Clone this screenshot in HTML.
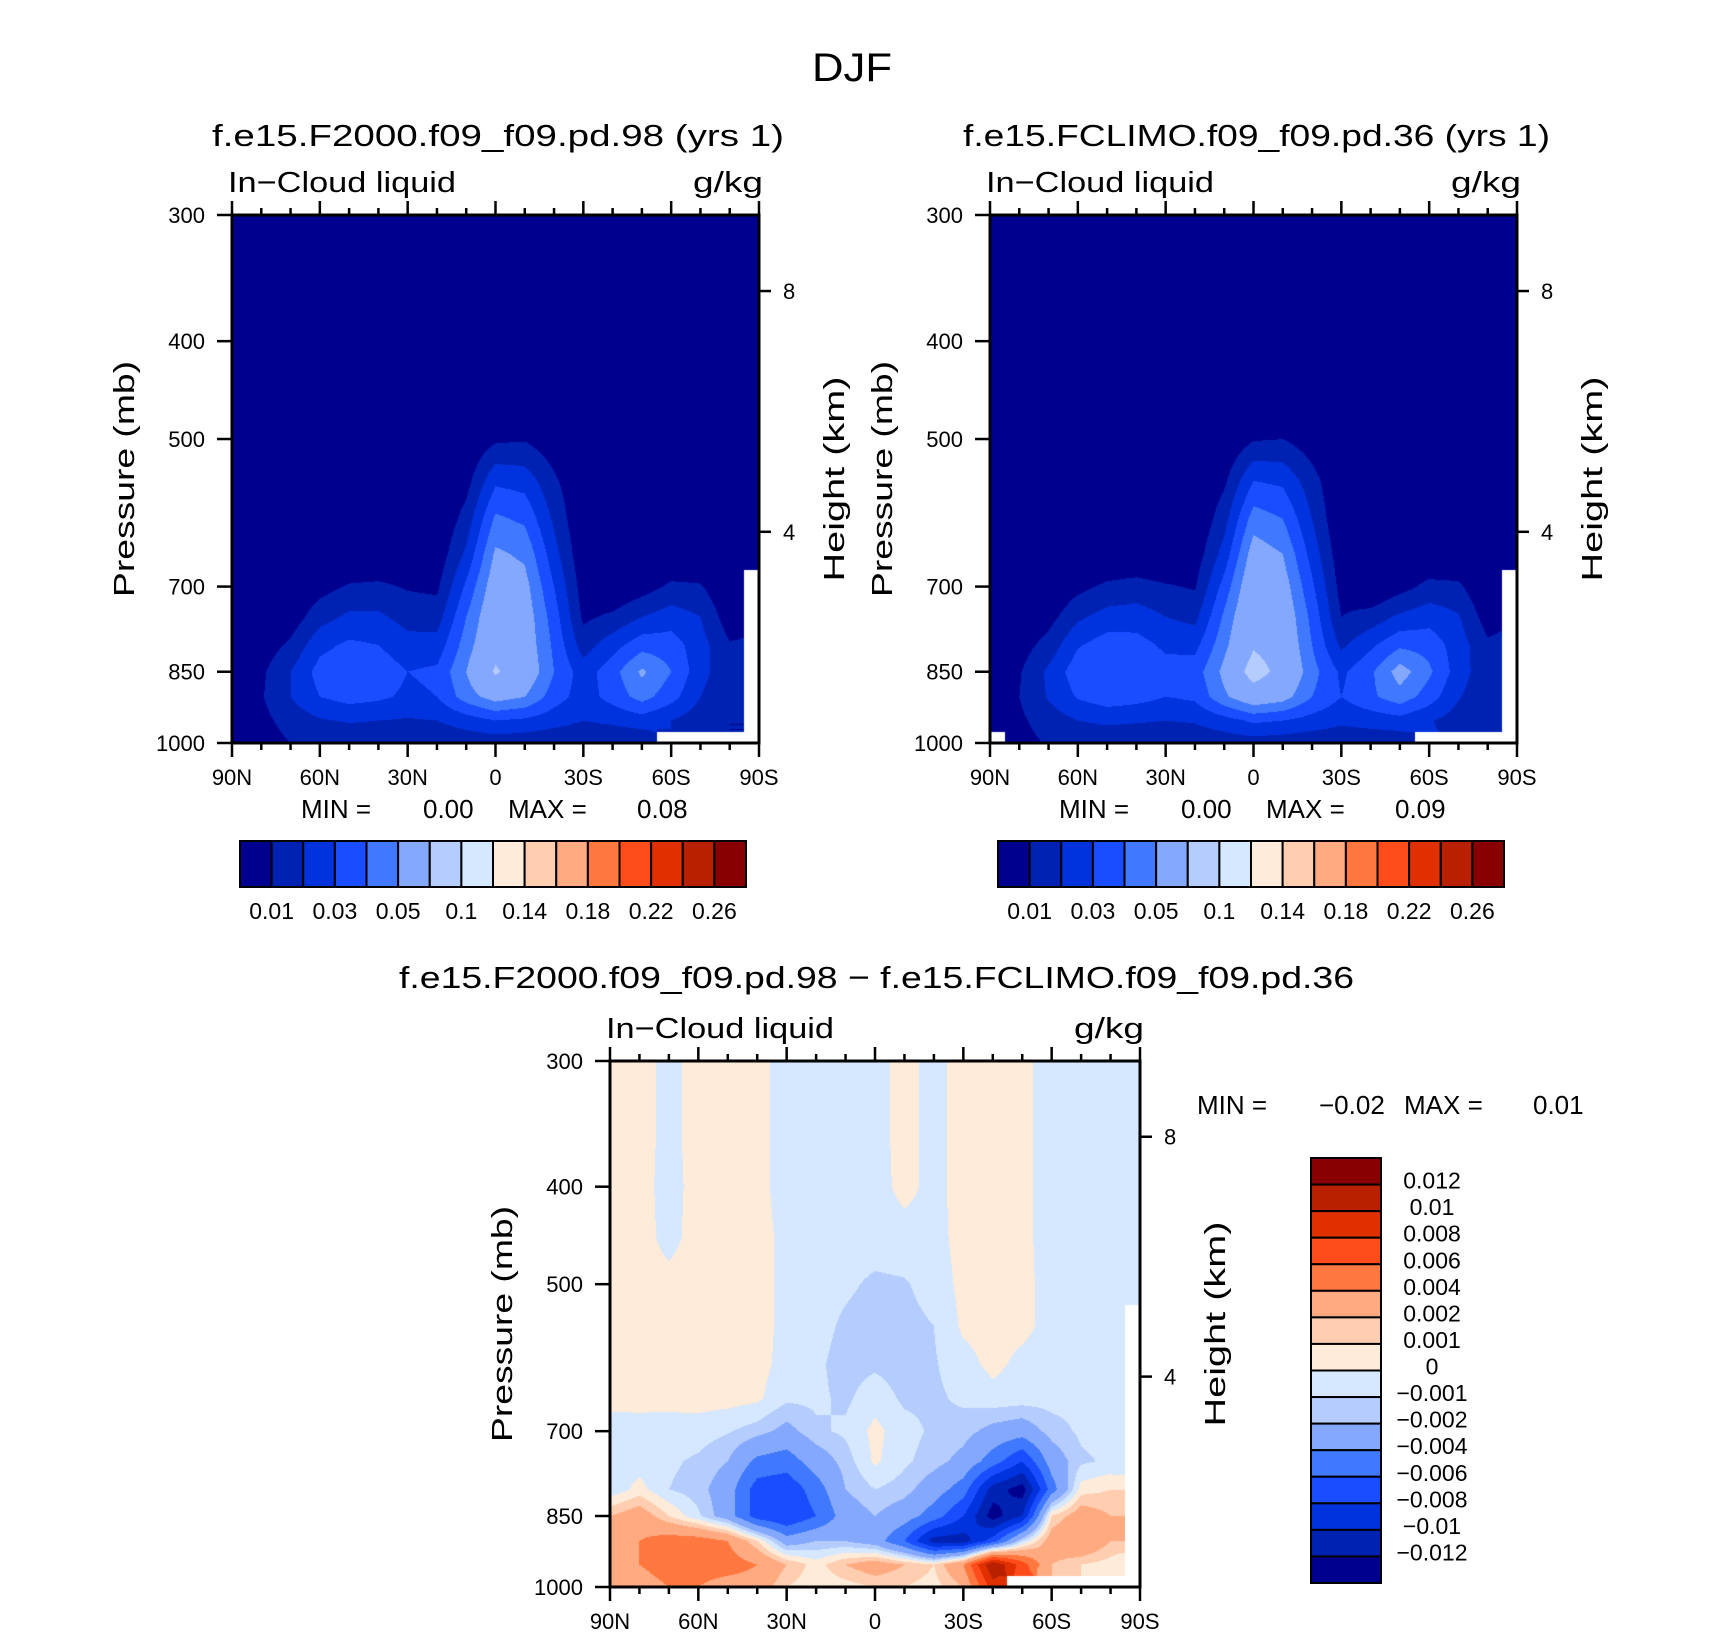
<!DOCTYPE html>
<html><head><meta charset="utf-8">
<style>
html,body{margin:0;padding:0;background:#fff;}
#wrap{position:relative;width:1710px;height:1636px;overflow:hidden;font-family:"Liberation Sans",sans-serif;}
canvas{position:absolute;}
svg{position:absolute;left:0;top:0;}
text{font-family:"Liberation Sans",sans-serif;fill:#000;}
</style></head>
<body>
<div id="wrap">
<canvas id="c1"></canvas>
<canvas id="c2"></canvas>
<canvas id="c3"></canvas>
<svg id="svg" width="1710" height="1636">
<text x="852" y="81" font-size="40" text-anchor="middle" textLength="80" lengthAdjust="spacingAndGlyphs">DJF</text>
</svg>
</div>
<script>
const PRESS = [300,350,400,450,500,550,600,650,700,750,800,850,900,950,1000];
const LATS = [90,80,70,60,50,40,30,20,10,0,-10,-20,-30,-40,-50,-60,-70,-80,-90];
const N = NaN;
const Z19 = [0,0,0,0,0,0,0,0,0,0,0,0,0,0,0,0,0,0,0];
const field1 = [
Z19,Z19,Z19,Z19,
[0,0,0,0,0,0,0,0,0,0.008,0.009,0.003,0,0,0,0,0,0,0],
[0,0,0,0,0,0,0,0,0.006,0.028,0.026,0.012,0,0,0,0,0,0,0],
[0,0,0,0,0,0,0,0,0.014,0.042,0.038,0.018,0,0,0,0,0,0,0],
[0,0,0,0,0,0,0,0.003,0.022,0.052,0.048,0.024,0.002,0,0,0,0,0,0],
[0,0,0,0.006,0.011,0.012,0.009,0.008,0.032,0.058,0.054,0.03,0.005,0,0.005,0.012,0.011,0,N],
[0,0,0.004,0.016,0.022,0.022,0.016,0.015,0.04,0.062,0.057,0.035,0.008,0.012,0.02,0.025,0.02,0.004,N],
[0,0.004,0.012,0.027,0.032,0.03,0.024,0.024,0.045,0.064,0.058,0.038,0.015,0.026,0.036,0.035,0.024,0.011,N],
[0,0.008,0.02,0.034,0.038,0.036,0.03,0.032,0.05,0.072,0.06,0.04,0.025,0.036,0.052,0.04,0.024,0.012,N],
[0,0.009,0.02,0.03,0.034,0.032,0.028,0.03,0.045,0.055,0.05,0.035,0.025,0.034,0.044,0.034,0.02,0.011,N],
[0,0.007,0.014,0.019,0.021,0.02,0.019,0.02,0.025,0.03,0.028,0.024,0.02,0.022,0.025,0.02,0.014,0.01,N],
[0,0.005,0.01,0.012,0.012,0.012,0.012,0.012,0.013,0.014,0.013,0.012,0.012,0.012,0.012,N,N,N,N]
];
const field2 = [
Z19,Z19,Z19,Z19,
[0,0,0,0,0,0,0,0,0,0.009,0.01,0.004,0,0,0,0,0,0,0],
[0,0,0,0,0,0,0,0,0.008,0.03,0.028,0.014,0,0,0,0,0,0,0],
[0,0,0,0,0,0,0,0,0.016,0.045,0.04,0.02,0,0,0,0,0,0,0],
[0,0,0,0,0,0,0,0.004,0.024,0.056,0.05,0.026,0.003,0,0,0,0,0,0],
[0,0,0,0.007,0.012,0.014,0.011,0.009,0.034,0.062,0.056,0.032,0.006,0,0.006,0.013,0.012,0,N],
[0,0,0.006,0.018,0.024,0.025,0.02,0.017,0.042,0.066,0.06,0.037,0.01,0.014,0.022,0.026,0.021,0.005,N],
[0,0.005,0.014,0.029,0.035,0.034,0.028,0.027,0.047,0.068,0.062,0.04,0.018,0.028,0.038,0.036,0.025,0.012,N],
[0,0.009,0.022,0.036,0.04,0.039,0.034,0.035,0.053,0.078,0.064,0.044,0.028,0.038,0.055,0.042,0.025,0.013,N],
[0,0.01,0.021,0.031,0.036,0.034,0.03,0.032,0.048,0.06,0.055,0.04,0.03,0.038,0.046,0.035,0.021,0.012,N],
[0,0.008,0.015,0.02,0.022,0.021,0.02,0.021,0.026,0.032,0.03,0.026,0.022,0.024,0.026,0.021,0.015,0.011,N],
[N,0.006,0.011,0.013,0.013,0.013,0.013,0.013,0.014,0.015,0.014,0.013,0.013,0.013,0.013,N,N,N,N]
];
const fieldDiff = [
[0.0003,0.0004,-0.0003,0.0004,0.0005,0.0003,-0.0004,-0.0003,-0.0004,-0.0003,0.0003,-0.0003,0.0004,0.0004,0.0003,-0.0005,-0.0005,-0.0004,-0.0004],
[0.0003,0.0004,-0.0003,0.0004,0.0005,0.0003,-0.0004,-0.0003,-0.0004,-0.0003,0.0003,-0.0003,0.0004,0.0004,0.0003,-0.0005,-0.0005,-0.0004,-0.0004],
[0.0003,0.0004,-0.0004,0.0004,0.0005,0.0003,-0.0004,-0.0003,-0.0004,-0.0004,0.0003,-0.0003,0.0004,0.0004,0.0003,-0.0005,-0.0005,-0.0004,-0.0004],
[0.0003,0.0004,-0.0003,0.0004,0.0005,0.0004,-0.0003,-0.0004,-0.0005,-0.0005,-0.0004,-0.0004,0.0004,0.0004,0.0003,-0.0005,-0.0005,-0.0004,-0.0006],
[0.0003,0.0004,0.0003,0.0004,0.0005,0.0004,-0.0003,-0.0005,-0.0008,-0.0012,-0.0011,-0.0006,0.0003,0.0004,0.0003,-0.0004,-0.0005,-0.0005,-0.0009],
[0.0003,0.0004,0.0003,0.0004,0.0005,0.0004,-0.0003,-0.0006,-0.0012,-0.0015,-0.0013,-0.001,0.0002,0.0004,0.0003,-0.0004,-0.0005,-0.0006,N],
[0.0003,0.0004,0.0003,0.0004,0.0005,0.0004,-0.0004,-0.0008,-0.0014,-0.0012,-0.0015,-0.0011,-0.0004,0.0003,-0.0003,-0.0005,-0.0006,-0.0007,N],
[0.0002,0.0003,0.0002,0.0004,0.0004,0.0002,-0.0008,-0.0008,-0.0012,-0.0004,-0.0012,-0.0012,-0.0008,-0.0004,-0.0005,-0.0006,-0.0007,-0.0008,N],
[-0.0003,-0.0004,-0.0003,-0.0005,-0.0009,-0.0015,-0.0025,-0.0012,-0.0008,0.0003,-0.0006,-0.0012,-0.0015,-0.0025,-0.003,-0.0015,-0.0008,-0.0006,N],
[-0.0006,-0.0005,-0.0008,-0.0012,-0.002,-0.0045,-0.005,-0.003,-0.0015,0.0002,-0.0008,-0.0015,-0.0025,-0.005,-0.008,-0.003,-0.0012,-0.0008,N],
[-0.0008,0.0004,-0.001,-0.0015,-0.003,-0.007,-0.0075,-0.005,-0.002,-0.001,-0.0015,-0.003,-0.005,-0.011,-0.013,-0.005,0.0005,0.001,N],
[0.002,0.003,0.001,-0.0008,-0.003,-0.007,-0.008,-0.006,-0.003,-0.002,-0.003,-0.005,-0.008,-0.013,-0.01,0.001,0.003,0.002,N],
[0.003,0.004,0.005,0.005,0.004,0.001,-0.003,-0.002,-0.002,-0.003,-0.006,-0.011,-0.011,-0.007,-0.001,0.003,0.004,0.002,N],
[0.003,0.004,0.005,0.005,0.005,0.004,0.002,0.0005,0.002,0.003,0.002,0.001,0.004,0.012,0.007,0.002,0.001,0.0005,N],
[0.002,0.003,0.004,0.004,0.003,0.003,0.001,0.0003,0.0005,0.001,0.001,0.0005,0.002,0.009,N,N,N,N,N]
];
const levelsMain = [0.01,0.02,0.03,0.04,0.05,0.07,0.1,0.12,0.14,0.16,0.18,0.2,0.22,0.24,0.26];
const levelsDiff = [-0.012,-0.01,-0.008,-0.006,-0.004,-0.002,-0.001,0,0.001,0.002,0.004,0.006,0.008,0.01,0.012];
const labelsMain = ["0.01","0.03","0.05","0.1","0.14","0.18","0.22","0.26"];
const labelsDiff = ["0.012","0.01","0.008","0.006","0.004","0.002","0.001","0","\u22120.001","\u22120.002","\u22120.004","\u22120.006","\u22120.008","\u22120.01","\u22120.012"];
const pTicks = [300,400,500,700,850,1000];
const latTicks = [90,60,30,0,-30,-60,-90];
const latTickLabels = ["90N","60N","30N","0","30S","60S","90S"];
const hTicks = [8,4];
const COLORS = ["#00008f","#0022b2","#0033dd","#1a4dff","#4078ff","#85a8ff","#b5ccff","#d5e8ff","#ffebd9","#ffcdb0","#ffaa80","#ff7840","#ff4c1a","#e03000","#b82000","#880000"];
const RGB = COLORS.map(c=>[parseInt(c.slice(1,3),16),parseInt(c.slice(3,5),16),parseInt(c.slice(5,7),16)]);

const LN0 = Math.log(300), LNR = Math.log(1000/300);
function yFrac(p){ return (Math.log(p)-LN0)/LNR; }
function hFrac(km){ return km===8 ? 0.144 : 0.6; }
function xFrac(lat){ return (90-lat)/180; }

const svg = document.getElementById('svg');
const NS = 'http://www.w3.org/2000/svg';
function mk(tag, attrs, txt){
  const e = document.createElementNS(NS, tag);
  for (const k in attrs) e.setAttribute(k, attrs[k]);
  if (txt !== undefined) e.textContent = txt;
  svg.appendChild(e);
  return e;
}

function drawField(id, x0, y0, W, H, field, levels){
  const cv = document.getElementById(id);
  cv.width = W; cv.height = H;
  cv.style.left = x0+'px'; cv.style.top = y0+'px';
  const ctx = cv.getContext('2d');
  const img = ctx.createImageData(W, H);
  const lnP = PRESS.map(p=>Math.log(p));
  for (let j=0;j<H;j++){
    const lp = LN0 + (j+0.5)/H*LNR;
    let r=0; while (r<PRESS.length-2 && lnP[r+1]<lp) r++;
    const ty = Math.min(1,Math.max(0,(lp-lnP[r])/(lnP[r+1]-lnP[r])));
    for (let i=0;i<W;i++){
      const lat = 90 - (i+0.5)/W*180;
      const fc = (90-lat)/10;
      let c = Math.min(LATS.length-2, Math.floor(fc));
      const tx = fc - c;
      const a=field[r][c], b=field[r][c+1], d=field[r+1][c], e=field[r+1][c+1];
      const near = field[ty<0.5?r:r+1][tx<0.5?c:c+1];
      const k=(j*W+i)*4;
      if (isNaN(near)){ img.data[k]=255;img.data[k+1]=255;img.data[k+2]=255;img.data[k+3]=255; continue; }
      const A=isNaN(a)?near:a, B=isNaN(b)?near:b, D=isNaN(d)?near:d, E=isNaN(e)?near:e;
      const v = (A*(1-tx)+B*tx)*(1-ty) + (D*(1-tx)+E*tx)*ty;
      let idx=0; while (idx<levels.length && v>=levels[idx]) idx++;
      const col = RGB[idx];
      img.data[k]=col[0];img.data[k+1]=col[1];img.data[k+2]=col[2];img.data[k+3]=255;
    }
  }
  ctx.putImageData(img,0,0);
}

function drawAxes(x0, y0, W, H, title, titleX1, titleX2, titleY){
  const t = mk('text',{x:titleX1,y:titleY,'font-size':31,textLength:titleX2-titleX1,lengthAdjust:'spacingAndGlyphs'},title);
  
  
  const l = mk('text',{x:x0-4,y:y0-23,'font-size':29,textLength:228,lengthAdjust:'spacingAndGlyphs'},'In\u2212Cloud liquid');
  
  
  const u = mk('text',{x:x0+W+4,y:y0-23,'font-size':29,'text-anchor':'end',textLength:70,lengthAdjust:'spacingAndGlyphs'},'g/kg');
  
  
  for (let lat=90; lat>=-90; lat-=10){
    const x = x0 + xFrac(lat)*W;
    const major = (lat%30===0);
    const len = major?14:7;
    const tt = mk('line',{x1:x,y1:y0,x2:x,y2:y0-len,stroke:'#000','stroke-width':2.5});
    
    
    const tb = mk('line',{x1:x,y1:y0+H,x2:x,y2:y0+H+len,stroke:'#000','stroke-width':2.5});
    
    
  }
  latTicks.forEach((lat,i)=>{
    const x = x0 + xFrac(lat)*W;
    const tl = mk('text',{x:x,y:y0+H+42,'font-size':22,'text-anchor':'middle'},latTickLabels[i]);
    
    
  });
  pTicks.forEach(p=>{
    const y = y0 + yFrac(p)*H;
    const tk = mk('line',{x1:x0-15,y1:y,x2:x0,y2:y,stroke:'#000','stroke-width':2.5});
    
    
    const tl = mk('text',{x:x0-27,y:y+8,'font-size':22,'text-anchor':'end'},String(p));
    
    
  });
  hTicks.forEach(h=>{
    const y = y0 + hFrac(h)*H;
    const tk = mk('line',{x1:x0+W,y1:y,x2:x0+W+12,y2:y,stroke:'#000','stroke-width':2.5});
    
    
    const tl = mk('text',{x:x0+W+24,y:y+8,'font-size':22},String(h));
    
    
  });
  const fr = mk('rect',{x:x0,y:y0,width:W,height:H,fill:'none',stroke:'#000','stroke-width':3});
  
  
  const cy = y0 + H*0.5;
  const py = mk('text',{x:0,y:0,'font-size':29,'text-anchor':'middle',textLength:236,lengthAdjust:'spacingAndGlyphs',transform:`translate(${x0-98},${cy}) rotate(-90)`},'Pressure (mb)');
  
  
  const hy = mk('text',{x:0,y:0,'font-size':29,'text-anchor':'middle',textLength:205,lengthAdjust:'spacingAndGlyphs',transform:`translate(${x0+W+85},${cy}) rotate(-90)`},'Height (km)');
  
  
}

function minMax(x, y, minv, maxv){
  const parts = [['MIN  =',x,'min-label'],[minv,x+122,'min-value'],['MAX  =',x+207,'max-label'],[maxv,x+336,'max-value']];
  parts.forEach(pp=>{
    const t = mk('text',{x:pp[1],y:y,'font-size':26},pp[0]);
    
    
  });
}

function hColorbar(x0, y0, W, H){
  const bw = W/16;
  for (let i=0;i<16;i++){
    const r = mk('rect',{x:x0+i*bw,y:y0,width:bw,height:H,fill:COLORS[i],stroke:'#000','stroke-width':2});
    
    
  }
  labelsMain.forEach((lb,i)=>{
    const t = mk('text',{x:x0+(2*i+1)*bw,y:y0+H+32,'font-size':23,'text-anchor':'middle'},lb);
    
    
  });
}

function vColorbar(x0, y0, W, H){
  const bh = H/16;
  for (let i=0;i<16;i++){
    const r = mk('rect',{x:x0,y:y0+i*bh,width:W,height:bh,fill:COLORS[15-i],stroke:'#000','stroke-width':2});
    
    
  }
  labelsDiff.forEach((lb,i)=>{
    const t = mk('text',{x:1432,y:y0+(i+1)*bh+4,'font-size':23,'text-anchor':'middle'},lb);
    
    
  });
}

drawField('c1',232,215,527,528,field1,levelsMain);
drawField('c2',990,215,527,528,field2,levelsMain);
drawField('c3',610,1061,530,526,fieldDiff,levelsDiff);
drawAxes(232,215,527,528,'f.e15.F2000.f09_f09.pd.98 (yrs 1)',212,784,146);
drawAxes(990,215,527,528,'f.e15.FCLIMO.f09_f09.pd.36 (yrs 1)',963,1550,146);
drawAxes(610,1061,530,526,'f.e15.F2000.f09_f09.pd.98 \u2212 f.e15.FCLIMO.f09_f09.pd.36',399,1354,988);
minMax(301,818,'0.00','0.08');
minMax(1059,818,'0.00','0.09');
minMax(1197,1114,'\u22120.02','0.01');
hColorbar(240,841,506,46);
hColorbar(998,841,506,46);
vColorbar(1311,1158,70,425);
</script>
</body></html>
